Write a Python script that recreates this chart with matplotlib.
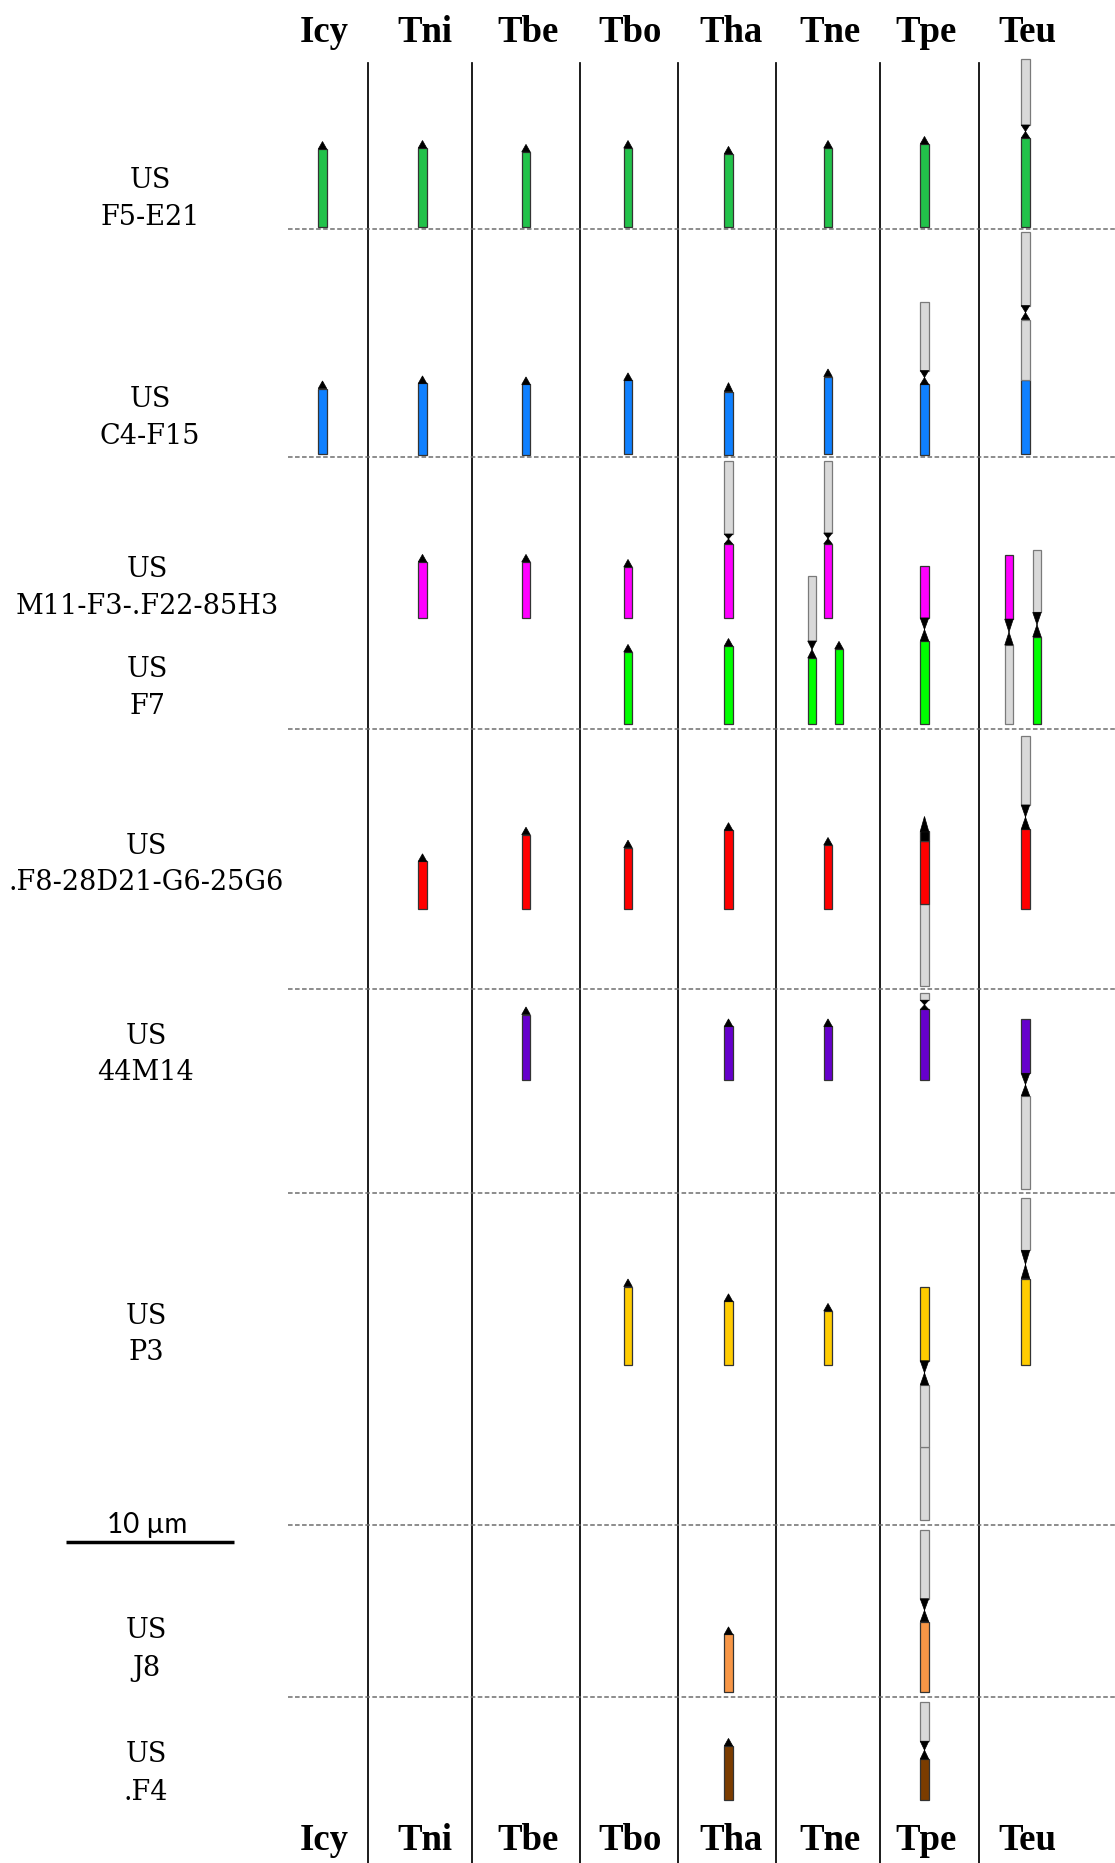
import matplotlib
matplotlib.use('Agg')
import matplotlib.pyplot as plt
from matplotlib.patches import Polygon

# ---------------- data ----------------
species = ['Icy', 'Tni', 'Tbe', 'Tbo', 'Tha', 'Tne', 'Tpe', 'Teu']
row_prefix = 'US'
row_names = ['F5-E21', 'C4-F15', 'M11-F3-.F22-85H3', 'F7',
             '.F8-28D21-G6-25G6', '44M14', 'P3', 'J8', '.F4']
scale_um = 10
scale_label = '10 µm'

seg_colors = {'g': '#22C24A', 'b': '#0F80FF', 'm': '#FF00FF', 'l': '#00FF00',
              'r': '#FF0000', 'p': '#6600CC', 'y': '#FFCC00', 'o': '#F79646',
              'n': '#7B3C00', 'x': '#D9D9D9', 'k': '#000000'}

A = ('tip', 0.45)      # telomere arrow
# chromosome: (species, x-offset px, drop below row baseline in um, parts bottom->top in um)
row_F5E21 = [
    ('Icy', 0, 0, [('g', 4.63), A]),
    ('Tni', 0, 0, [('g', 4.69), A]),
    ('Tbe', 0, 0, [('g', 4.46), A]),
    ('Tbo', 0, 0, [('g', 4.69), A]),
    ('Tha', 0, 0, [('g', 4.34), A]),
    ('Tne', 0, 0, [('g', 4.69), A]),
    ('Tpe', 0, 0, [('g', 4.93), A]),
    ('Teu', 0, 0, [('g', 5.29), ('cen', 0.77), ('x', 3.92)]),
]
row_C4F15 = [
    ('Icy', 0, 0, [('b', 3.92), A]),
    ('Tni', 0, 0, [('b', 4.22), A]),
    ('Tbe', 0, 0, [('b', 4.16), A]),
    ('Tbo', 0, 0, [('b', 4.40), A]),
    ('Tha', 0, 0, [('b', 3.74), ('tip', 0.53)]),
    ('Tne', 0, 0, [('b', 4.63), A]),
    ('Tpe', 0, 0, [('b', 4.16), ('cen', 0.83), ('x', 4.10)]),
    ('Teu', 0, 0, [('b', 4.40), ('x', 3.62), ('cen', 0.83), ('x', 4.40)]),
]
row_M11 = [
    ('Tni', 0, 0, [('m', 3.33), A]),
    ('Tbe', 0, 0, [('m', 3.33), A]),
    ('Tbo', 0, 0, [('m', 3.03), A]),
    ('Tha', 0, 0, [('m', 4.40), ('cen', 0.59), ('x', 4.34)]),
    ('Tne', 0, 0, [('m', 4.40), ('cen', 0.65), ('x', 4.28)]),
]
row_F7 = [
    ('Tbo', 0, 0, [('l', 4.28), A]),
    ('Tha', 0, 0, [('l', 4.63), A]),
    ('Tne', -16, 0, [('l', 3.92), ('cen', 1.01), ('x', 3.86)]),
    ('Tne', 11, 0, [('l', 4.46), A]),
    ('Tpe', 0, 0, [('l', 4.93), ('cen', 1.37), ('m', 3.09)]),
    ('Teu', -16.5, 0, [('x', 4.69), ('cen', 1.54), ('m', 3.83)]),
    ('Teu', 11.5, 0, [('l', 5.17), ('cen', 1.46), ('x', 3.71)]),
]
row_F8 = [
    ('Tni', 0, 0, [('r', 2.83), A]),
    ('Tbe', 0, 0, [('r', 4.41), A]),
    ('Tbo', 0, 0, [('r', 3.64), A]),
    ('Tha', 0, 0, [('r', 4.68), A]),
    ('Tne', 0, 0, [('r', 3.80), A]),
    ('Tpe', 0, 4.56, [('x', 4.84), ('r', 3.78), ('k', 0.55), ('tip', 0.89)]),
    ('Teu', 0, 0, [('r', 4.74), ('cen', 1.44), ('x', 4.10)]),
]
row_44M14 = [
    ('Tbe', 0, 0, [('p', 3.86), A]),
    ('Tha', 0, 0, [('p', 3.15), A]),
    ('Tne', 0, 0, [('p', 3.15), A]),
    ('Tpe', 0, 0, [('p', 4.16), ('cen', 0.55), ('x', 0.44)]),
    ('Teu', 0, 6.51, [('x', 5.53), ('cen', 1.34), ('p', 3.25)]),
]
row_P3 = [
    ('Tbo', 0, 0, [('y', 4.66), A]),
    ('Tha', 0, 0, [('y', 3.78), A]),
    ('Tne', 0, 0, [('y', 3.21), A]),
    ('Tpe', 0, 9.23, [('x', 4.38), ('x', 3.66), ('cen', 1.44), ('y', 4.36)]),
    ('Teu', 0, 0, [('y', 5.13), ('cen', 1.68), ('x', 3.12)]),
]
row_J8 = [
    ('Tha', 0, 0, [('o', 3.42), A]),
    ('Tpe', 0, 0, [('o', 4.17), ('cen', 1.37), ('x', 4.10)]),
]
row_F4 = [
    ('Tha', 0, 0, [('n', 3.18), A]),
    ('Tpe', 0, 0, [('n', 2.40), ('cen', 1.06), ('x', 2.32)]),
]
rows = [row_F5E21, row_C4F15, row_M11, row_F7, row_F8, row_44M14, row_P3, row_J8, row_F4]

# ---------------- layout ----------------
W, H, DPI = 1115, 1863, 100
PX_PER_UM = 16.83
BAR_W = 8.5
col_x = [322.5, 422.5, 526, 628, 728.5, 828, 924.5, 1025.5]
sep_x = [367.5, 472, 579.5, 677.5, 775.5, 880, 979]
dash_y = [228.5, 456.5, 729, 989, 1193, 1525, 1697]
row_base = [227, 454.5, 618, 724, 909, 1079.5, 1365, 1692, 1799.5]
label_us_y = [188, 407, 577, 677, 853.5, 1043.5, 1323.5, 1638.5, 1762.5]
label_x = [150, 150, 147.5, 147.5, 146, 146, 146, 146, 146]
LINE_GAP = 37

fig = plt.figure(figsize=(W / DPI, H / DPI), dpi=DPI)
ax = fig.add_axes([0, 0, 1, 1])
ax.set_xlim(0, W)
ax.set_ylim(H, 0)
ax.axis('off')

# separators
for x in sep_x:
    ax.plot([x, x], [63, H], color='black', lw=1.25, zorder=1)
for y in dash_y:
    ax.plot([288, W], [y, y], color='#6e6e6e', lw=1.1, ls=(0, (3, 1.6)), zorder=1)

# headers
for sp, x in zip(species, col_x):
    for yb in (42, 1850):
        ax.text(x + 2, yb, sp, ha='center', va='baseline', fontsize=26.5,
                fontweight='bold', family=['Liberation Serif', 'DejaVu Serif'])

# row labels
for name, y, x in zip(row_names, label_us_y, label_x):
    ax.text(x, y, row_prefix, ha='center', va='baseline', fontsize=19.5,
            family=['DejaVu Serif'])
    ax.text(x, y + LINE_GAP, name, ha='center', va='baseline', fontsize=19.5,
            family=['DejaVu Serif'])

# scale bar
sb_x0 = 65.7
ax.plot([sb_x0, sb_x0 + scale_um * PX_PER_UM], [1542, 1542], color='black',
        lw=2.5, solid_capstyle='butt')
ax.text(sb_x0 + scale_um * PX_PER_UM / 2 - 3, 1533, scale_label, ha='center',
        va='baseline', fontsize=20, family=['Lato', 'DejaVu Sans'])


def draw_chrom(x, base, drop_um, parts):
    y = base + drop_um * PX_PER_UM
    hw = BAR_W / 2
    for kind, val in parts:
        h = val * PX_PER_UM
        top = y - h
        if kind == 'cen':
            mid = (top + y) / 2
            poly = Polygon([(x - hw, top), (x + hw, top), (x, mid),
                            (x + hw, y), (x - hw, y), (x, mid)],
                           closed=True, facecolor='black', edgecolor='black',
                           lw=0.5, zorder=4)
            ax.add_patch(poly)
        elif kind == 'tip':
            poly = Polygon([(x - hw, y), (x + hw, y), (x, top)], closed=True,
                           facecolor='black', edgecolor='black', lw=0.5, zorder=4)
            ax.add_patch(poly)
        else:
            ec = '#7a7a7a' if kind == 'x' else '#333333'
            ax.bar(x, h, bottom=top, width=BAR_W, color=seg_colors[kind],
                   edgecolor=ec, linewidth=0.9, zorder=3)
        y = top


for r, chroms in enumerate(rows):
    for sp, dx, drop, parts in chroms:
        draw_chrom(col_x[species.index(sp)] + dx, row_base[r], drop, parts)

fig.savefig('out.png', dpi=DPI)
